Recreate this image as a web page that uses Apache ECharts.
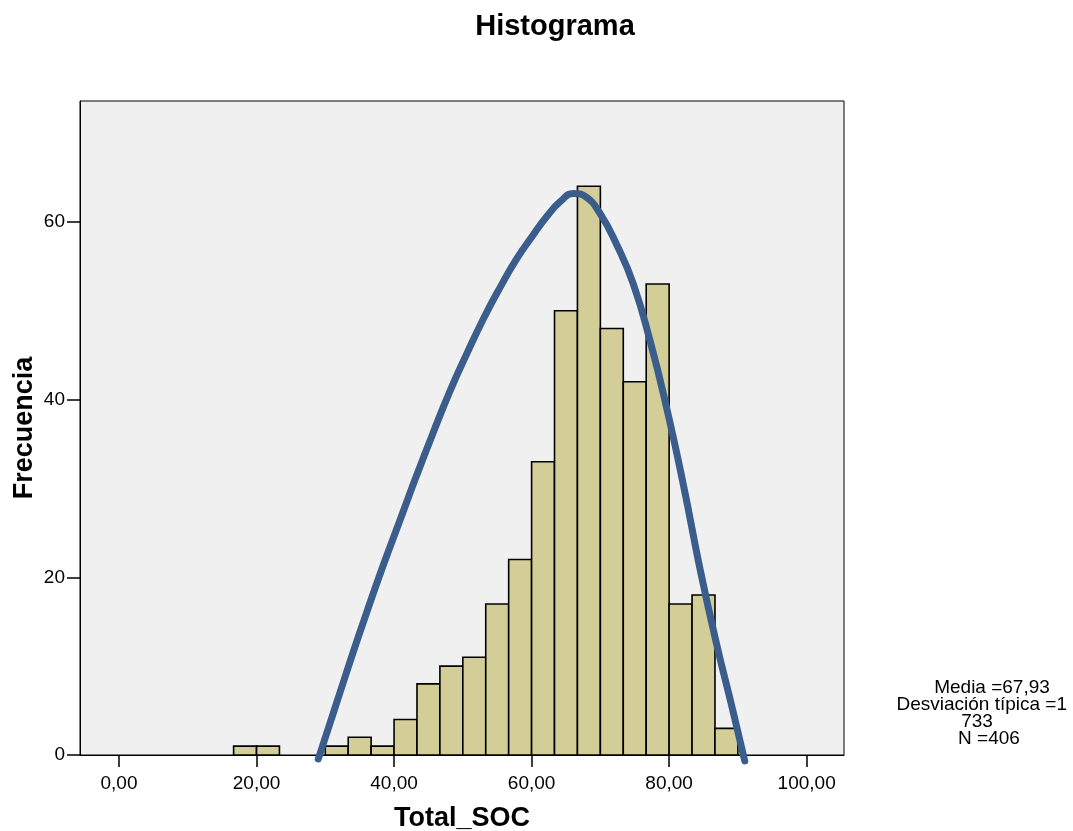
<!DOCTYPE html>
<html>
<head>
<meta charset="utf-8">
<title>Histograma</title>
<script src="https://cdn.jsdelivr.net/npm/echarts@6/dist/echarts.min.js"></script>
<style>
  html, body { margin: 0; padding: 0; background: #ffffff; }
  #chart { width: 1073px; height: 831px; }
</style>
</head>
<body>
<div id="chart"></div>
<script>
// Histogram bins of Total_SOC (lower edge, upper edge, frequency)
const binLow  = [16.667, 20, 30, 33.333, 36.667, 40, 43.333, 46.667, 50, 53.333,
                 56.667, 60, 63.333, 66.667, 70, 73.333, 76.667, 80, 83.333, 86.667];
const binHigh = [20, 23.333, 33.333, 36.667, 40, 43.333, 46.667, 50, 53.333, 56.667,
                 60, 63.333, 66.667, 70, 73.333, 76.667, 80, 83.333, 86.667, 90];
const freq    = [1, 1, 1, 2, 1, 4, 8, 10, 11, 17,
                 22, 33, 50, 64, 48, 42, 53, 17, 18, 3];

// Fitted curve as drawn over the histogram (x, frequency)
const curveX = [28.98, 31.2, 33.6, 36.0, 38.4, 40.9, 43.3, 45.7, 48.1, 50.6, 53.0, 55.4,
                57.8, 60.2, 62.2, 64.2, 66.1, 67.9, 69.9, 72.4, 74.8, 77.2, 79.6, 82.1,
                84.5, 86.9, 89.3, 91.0];
const curveY = [-0.45, 4.8, 10.5, 16.0, 21.3, 26.5, 31.5, 36.3, 40.9, 45.2, 49.1, 52.6,
                55.8, 58.5, 60.6, 62.3, 63.2, 62.8, 61.0, 57.4, 53.0, 46.7, 39.2, 30.3,
                20.9, 12.5, 4.9, -0.67];

const xTicks = [0, 20, 40, 60, 80, 100];
const statsLines = ['Media =67,93', 'Desviación típica =1', '733', 'N =406'];

const FONT = '"Liberation Sans", Arial, sans-serif';

const chart = echarts.init(document.getElementById('chart'), null, { renderer: 'canvas' });

const bins = binLow.map((lo, i) => [lo, binHigh[i], freq[i]]);
const curve = curveX.map((x, i) => [x, curveY[i]]);

const statsPos = [[992, 697], [981.7, 714], [977, 731], [989, 748]];

chart.setOption({
  backgroundColor: '#ffffff',
  animation: false,
  title: {
    text: 'Histograma',
    left: 555,
    top: 12,
    textAlign: 'center',
    padding: 0,
    textStyle: { fontFamily: FONT, fontSize: 29, fontWeight: 'bold', color: '#000' }
  },
  grid: {
    left: 80, right: 229, top: 101, bottom: 76,
    outerBoundsMode: 'none',
    containLabel: false,
    show: true,
    backgroundColor: '#f0f0f0',
    borderColor: '#000',
    borderWidth: 1
  },
  xAxis: {
    type: 'value',
    min: -5.67,
    max: 105.43,
    name: 'Total_SOC',
    nameLocation: 'middle',
    nameGap: 49,
    nameMoveOverlap: false,
    nameTextStyle: { fontFamily: FONT, fontSize: 27, fontWeight: 'bold', color: '#000', lineHeight: 30 },
    axisLine: { show: true, onZero: false, lineStyle: { color: '#000', width: 1 } },
    axisTick: { show: true, length: 12, customValues: xTicks, lineStyle: { color: '#000', width: 1.5 } },
    axisLabel: {
      customValues: xTicks,
      margin: 19,
      fontFamily: FONT, fontSize: 19, color: '#000',
      formatter: v => v.toFixed(2).replace('.', ',')
    },
    splitLine: { show: false }
  },
  yAxis: {
    type: 'value',
    min: 0,
    max: 73.6,
    interval: 20,
    name: 'Frecuencia',
    nameLocation: 'middle',
    nameGap: 42,
    nameMoveOverlap: false,
    nameTextStyle: { fontFamily: FONT, fontSize: 27, fontWeight: 'bold', color: '#000' },
    axisLine: { show: true, onZero: false, lineStyle: { color: '#000', width: 1 } },
    axisTick: { show: true, length: 13, lineStyle: { color: '#000', width: 1.5 } },
    axisLabel: {
      margin: 15,
      fontFamily: FONT, fontSize: 19, color: '#000',
      showMaxLabel: false
    },
    splitLine: { show: false }
  },
  series: [
    {
      type: 'custom',
      data: bins,
      clip: true,
      renderItem: function (params, api) {
        const p0 = api.coord([api.value(0), 0]);
        const p1 = api.coord([api.value(1), api.value(2)]);
        return {
          type: 'rect',
          shape: { x: p0[0], y: p1[1], width: p1[0] - p0[0], height: p0[1] - p1[1] },
          style: { fill: '#d3ce98', stroke: '#000', lineWidth: 1.6 }
        };
      },
      z: 2
    },
    {
      type: 'line',
      data: curve,
      smooth: true,
      symbol: 'none',
      clip: false,
      lineStyle: { color: '#3a5d8c', width: 7, cap: 'round', join: 'round' },
      z: 3
    }
  ],
  graphic: statsLines.map((t, i) => ({
    type: 'text',
    x: statsPos[i][0],
    y: statsPos[i][1],
    style: {
      text: t,
      font: '19px ' + FONT,
      fill: '#000',
      textAlign: 'center',
      textVerticalAlign: 'bottom'
    }
  }))
});
</script>
</body>
</html>
